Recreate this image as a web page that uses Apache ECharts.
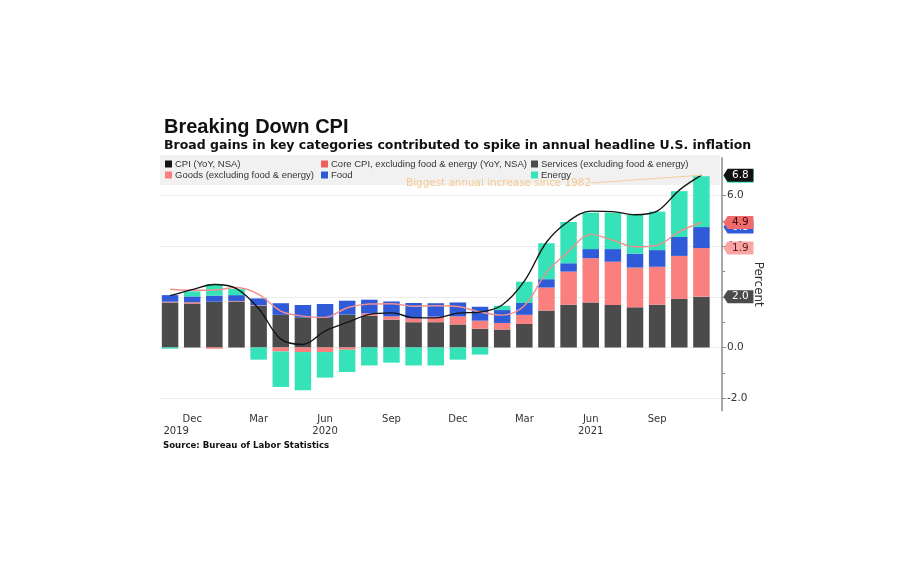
<!DOCTYPE html>
<html><head><meta charset="utf-8">
<script src="https://cdn.jsdelivr.net/npm/echarts@6/dist/echarts.min.js"></script>
<style>html,body{margin:0;padding:0;background:#fff}#c{width:900px;height:573px}</style>
</head><body><div id="c"></div>
<script>
// ---- data ----
const categories = ['Nov 2019','Dec 2019','Jan 2020','Feb 2020','Mar 2020','Apr 2020','May 2020','Jun 2020','Jul 2020','Aug 2020','Sep 2020','Oct 2020','Nov 2020','Dec 2020','Jan 2021','Feb 2021','Mar 2021','Apr 2021','May 2021','Jun 2021','Jul 2021','Aug 2021','Sep 2021','Oct 2021','Nov 2021'];
const xTickLabels = {'Dec 2019':['Dec','2019'],'Mar 2020':['Mar',''],'Jun 2020':['Jun','2020'],'Sep 2020':['Sep',''],'Dec 2020':['Dec',''],'Mar 2021':['Mar',''],'Jun 2021':['Jun','2021'],'Sep 2021':['Sep','']};
const cpi = [2.05,2.29,2.49,2.33,1.54,0.33,0.12,0.65,0.99,1.31,1.37,1.18,1.17,1.36,1.40,1.68,2.62,4.16,4.99,5.39,5.37,5.25,5.39,6.22,6.81];
const coreCpi = [2.30,2.26,2.27,2.37,2.10,1.44,1.24,1.19,1.57,1.72,1.73,1.63,1.65,1.62,1.40,1.28,1.65,2.96,3.80,4.47,4.24,3.98,4.04,4.58,4.94];
const services = [1.78,1.74,1.81,1.82,1.65,1.29,1.19,1.17,1.30,1.26,1.10,1.00,1.00,0.91,0.74,0.71,0.93,1.46,1.69,1.78,1.68,1.59,1.69,1.92,2.01];
const goods = [0.03,0.05,-0.05,0.02,0.02,-0.16,-0.18,-0.18,-0.09,0.09,0.13,0.15,0.22,0.32,0.32,0.26,0.36,0.91,1.31,1.75,1.71,1.57,1.50,1.70,1.92];
const food = [0.26,0.23,0.24,0.23,0.27,0.46,0.49,0.55,0.55,0.54,0.59,0.61,0.53,0.55,0.55,0.51,0.47,0.33,0.33,0.36,0.50,0.55,0.66,0.75,0.83];
const energy = [-0.05,0.20,0.46,0.24,-0.48,-1.40,-1.51,-1.01,-0.88,-0.71,-0.60,-0.71,-0.71,-0.48,-0.28,0.17,0.84,1.42,1.63,1.44,1.44,1.53,1.52,1.81,2.01];

const names = {
  cpi: 'CPI (YoY, NSA)', core: 'Core CPI, excluding food & energy (YoY, NSA)',
  services: 'Services (excluding food & energy)', goods: 'Goods (excluding food & energy)',
  food: 'Food', energy: 'Energy'
};
const colors = { services:'#4b4b4b', goods:'#fa8080', food:'#2f5bd9', energy:'#36e2b8', cpi:'#141414', coreLine:'#ef9090', coreLegend:'#f1605e' };
const FONT = 'DejaVu Sans';
const FONT2 = 'Liberation Sans';

const last = categories.length - 1;
const lastCat = categories[last];
const stackSeries = [['services', services], ['goods', goods], ['food', food], ['energy', energy]];
// cumulative positive-stack tops at the last category (for end tags)
let run = 0; const cumTop = {};
stackSeries.forEach(([k, arr]) => { run += Math.max(arr[last], 0); cumTop[k] = run; });

const tagPath = 'path://M0,6L5,0L36,0L36,12L5,12Z';
function tag(val, pos, fill, textColor) {
  return {
    coord: [lastCat, pos], value: val,
    symbol: tagPath, symbolSize: [30, 13], symbolKeepAspect: false, symbolOffset: [37, 0],
    itemStyle: { color: fill },
    label: { show: true, position: 'inside', offset: [2, 0], formatter: val.toFixed(1), color: textColor, fontSize: 10.5, fontFamily: FONT }
  };
}
const tagStyle = {
  services: ['#4b4b4b', '#fff'], goods: ['#f9a3a3', '#5a1d1d'], food: ['#2f5bd9', '#fff'], energy: ['#36e2b8', '#111']
};

const barSeries = stackSeries.map(([k, arr]) => ({
  name: names[k], type: 'bar', stack: 'total', data: arr, barWidth: 16.5,
  xAxisIndex: 0, yAxisIndex: 0,
  itemStyle: { color: colors[k] }, emphasis: { disabled: true },
  markPoint: { silent: true, z: 5, data: [tag(arr[last], cumTop[k], tagStyle[k][0], tagStyle[k][1])] }
}));

const legendBase = { top: 159, orient: 'vertical', padding: 0, itemGap: 1, itemWidth: 7, itemHeight: 7, selectedMode: false,
  textStyle: { fontFamily: FONT2, fontSize: 9.5, color: '#333', padding: [0, 0, 0, -2] } };

const option = {
  animation: false,
  backgroundColor: '#ffffff',
  title: {
    text: 'Breaking Down CPI', left: 159, top: 112, itemGap: 2,
    textStyle: { fontFamily: FONT2, fontWeight: 'bold', fontSize: 20, color: '#111' },
    subtext: 'Broad gains in key categories contributed to spike in annual headline U.S. inflation',
    subtextStyle: { fontFamily: FONT, fontWeight: 'bold', fontSize: 12.5, color: '#111' }
  },
  graphic: [
    { type: 'rect', z: 0, shape: { x: 160, y: 155, width: 560, height: 30 }, style: { fill: '#f1f1f1' } },
    { type: 'text', z: 3, style: { x: 591, y: 183, text: 'Biggest annual increase since 1982', align: 'right', verticalAlign: 'middle', fill: '#f7c98f', font: '10.4px "' + FONT + '"' } },
    { type: 'text', z: 3, style: { x: 163, y: 446, text: 'Source: Bureau of Labor Statistics', align: 'left', verticalAlign: 'middle', fill: '#111', font: 'bold 8.6px "' + FONT + '"' } }
  ],
  legend: [
    Object.assign({ left: 165, data: [{ name: names.cpi, icon: 'rect', itemStyle: { color: colors.cpi } }, { name: names.goods, icon: 'rect' }] }, legendBase),
    Object.assign({ left: 321, data: [{ name: names.core, icon: 'rect', itemStyle: { color: colors.coreLegend } }, { name: names.food, icon: 'rect' }] }, legendBase),
    Object.assign({ left: 531, data: [{ name: names.services, icon: 'rect' }, { name: names.energy, icon: 'rect' }] }, legendBase)
  ],
  grid: [
    { left: 159, right: 187.5, top: 157.75, bottom: 162.25 },
    { left: 159, right: 178, top: 195.7, bottom: 174.9 }
  ],
  xAxis: [
    { type: 'category', gridIndex: 0, data: categories, boundaryGap: true,
      axisLine: { show: false }, axisTick: { show: false },
      axisLabel: { interval: 0, margin: 3, fontFamily: FONT, fontSize: 10, color: '#333', lineHeight: 12,
        formatter: v => {
          const t = xTickLabels[v]; if (!t) return '';
          if (!t[1]) return '{m|' + t[0] + '}';
          return '{m|' + t[0] + '}\n{' + (v === categories[1] ? 'y0' : 'y') + '|' + t[1] + '}';
        },
        rich: { m: { fontFamily: FONT, fontSize: 10, color: '#333', lineHeight: 12 },
                y: { fontFamily: FONT, fontSize: 10, color: '#333', lineHeight: 12 },
                y0: { fontFamily: FONT, fontSize: 10, color: '#333', lineHeight: 12, padding: [0, 32, 0, 0] } } } },
    { type: 'category', gridIndex: 1, show: false, data: categories }
  ],
  yAxis: [
    { type: 'value', gridIndex: 0, position: 'right', offset: 9.5, min: -2.5, max: 7.5,
      axisLine: { show: true, onZero: false, lineStyle: { color: '#8c8c8c', width: 1.5 } },
      axisTick: { show: false }, axisLabel: { show: false }, splitLine: { show: false },
      name: 'Percent', nameLocation: 'middle', nameRotate: -90, nameGap: 30,
      nameTextStyle: { fontFamily: FONT, fontSize: 12, color: '#333' } },
    { type: 'value', gridIndex: 1, position: 'right', min: -2, max: 6, interval: 2,
      axisLine: { show: false, onZero: false },
      axisTick: { show: true, length: 4, lineStyle: { color: '#8c8c8c' } },
      minorTick: { show: true, splitNumber: 2, length: 3, lineStyle: { color: '#8c8c8c' } },
      axisLabel: { margin: 5, fontFamily: FONT, fontSize: 10.5, color: '#333', formatter: v => v.toFixed(1) },
      splitLine: { show: true, lineStyle: { color: '#ececec', width: 1 } } }
  ],
  series: [
    ...barSeries,
    { name: names.core, type: 'line', data: coreCpi, smooth: 0.35, symbol: 'none', xAxisIndex: 0, yAxisIndex: 0,
      lineStyle: { color: colors.coreLine, width: 1.4 }, itemStyle: { color: colors.coreLegend }, emphasis: { disabled: true },
      markPoint: { silent: true, z: 8, data: [tag(coreCpi[last], coreCpi[last], '#f26b6b', '#3a0f0f')] } },
    { name: names.cpi, type: 'line', data: cpi, smooth: 0.35, symbol: 'none', xAxisIndex: 0, yAxisIndex: 0,
      lineStyle: { color: colors.cpi, width: 1.4 }, itemStyle: { color: colors.cpi }, emphasis: { disabled: true },
      markLine: { silent: true, symbol: ['none', 'none'], label: { show: false },
        lineStyle: { color: '#f6cf9c', width: 1, type: 'solid' },
        data: [[{ coord: ['Jun 2021', 6.5] }, { coord: [lastCat, cpi[last]] }]] },
      markPoint: { silent: true, z: 8, data: [tag(cpi[last], cpi[last], '#111111', '#ffffff')] } }
  ]
};
const chart = echarts.init(document.getElementById('c'), null, { renderer: 'canvas' });
chart.setOption(option);
</script></body></html>
